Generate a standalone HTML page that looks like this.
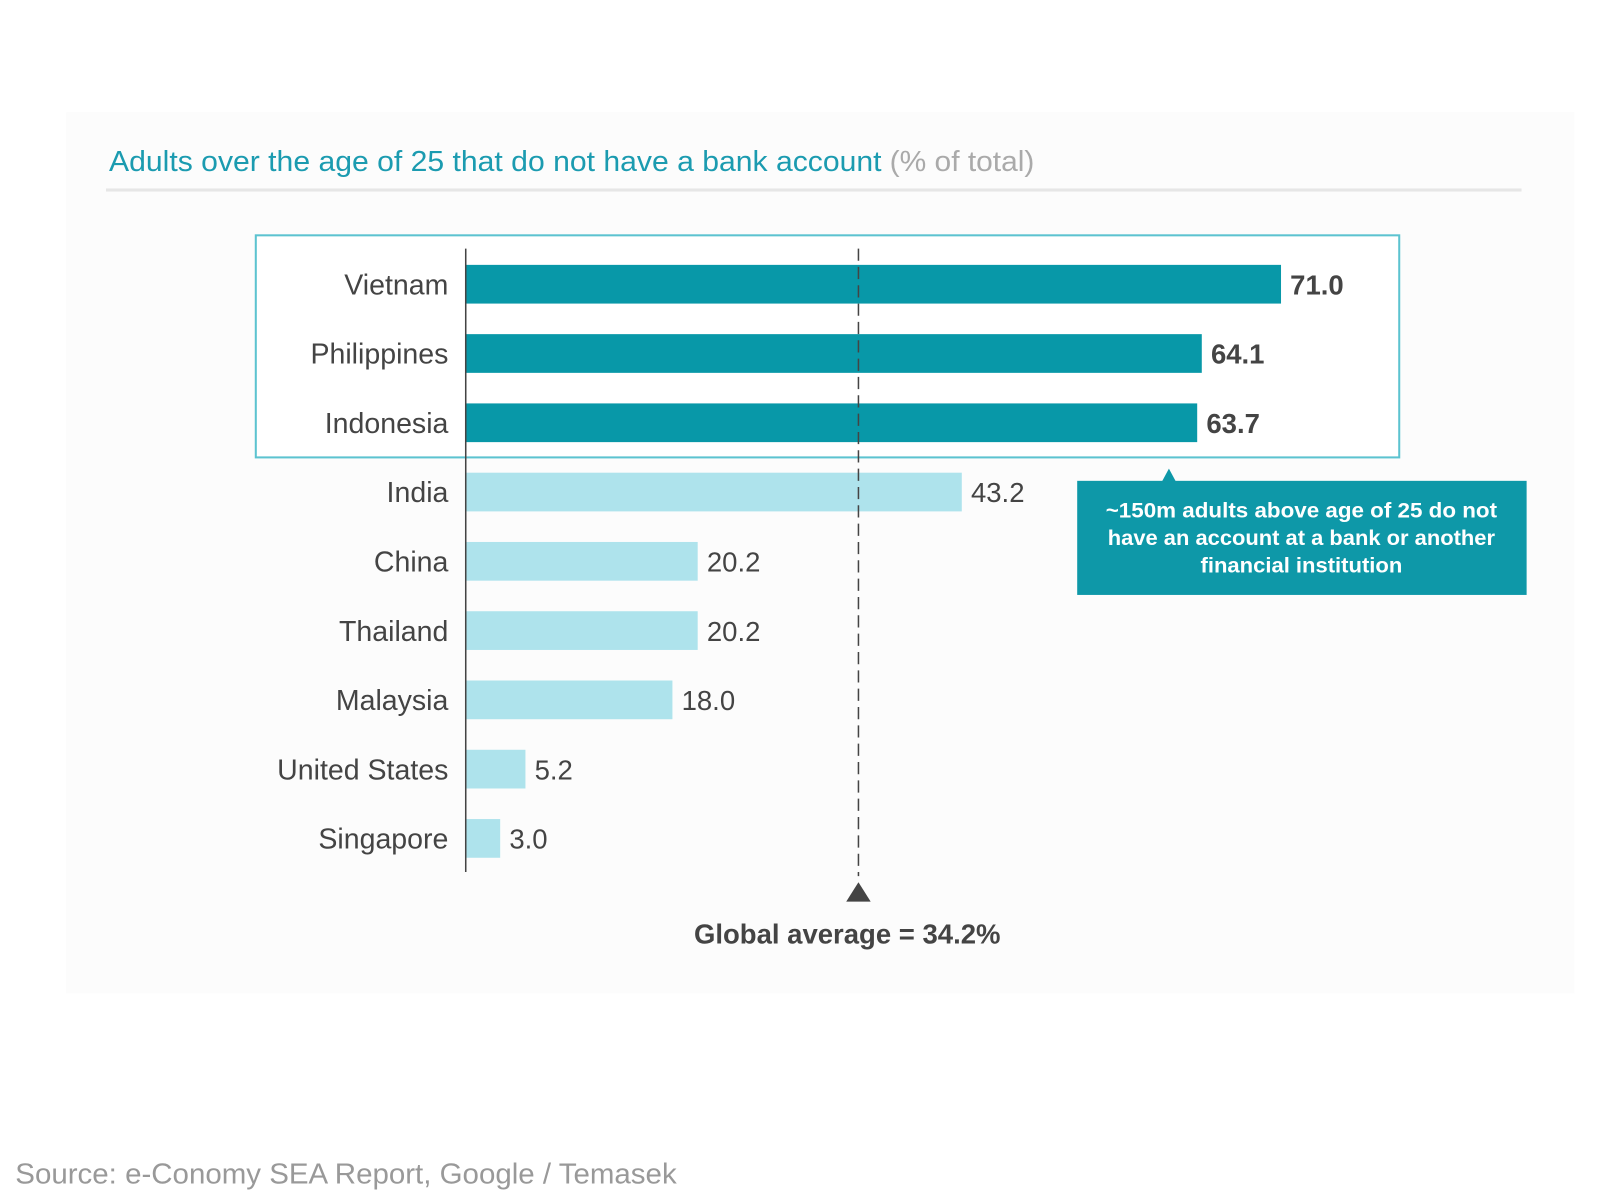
<!DOCTYPE html>
<html><head><meta charset="utf-8"><style>
html,body{margin:0;padding:0;background:#fff;}
svg{display:block;font-family:"Liberation Sans",Arial,sans-serif;}
</style></head><body>
<svg id="chart" width="1600" height="1197" viewBox="0 0 1570 1175" preserveAspectRatio="none" xmlns="http://www.w3.org/2000/svg">
<rect x="65" y="110" width="1480" height="865" fill="#fcfcfc"/>
<text x="107" y="168" font-size="28" fill="#1b9bb0"><tspan textLength="758" lengthAdjust="spacingAndGlyphs">Adults over the age of 25 that do not have a bank account</tspan> <tspan fill="#aaaaaa" x="873" textLength="142" lengthAdjust="spacingAndGlyphs">(% of total)</tspan></text>
<rect x="104" y="185" width="1389" height="3" fill="#e6e6e6"/>
<rect x="251" y="231" width="1122" height="218" fill="#fff" stroke="#5cc3d0" stroke-width="2"/>
<g id="bars"></g>
<line x1="457" y1="244" x2="457" y2="856" stroke="#444" stroke-width="1.5"/>
<g id="avg"></g>
<g>
<polygon points="1140,473 1147,460 1154,473" fill="#0e98a8"/>
<rect x="1057" y="472" width="441" height="112" fill="#0e98a8"/>
<text x="1277" font-size="21" font-weight="bold" fill="#fff" text-anchor="middle"><tspan x="1277" y="508" textLength="384" lengthAdjust="spacingAndGlyphs">~150m adults above age of 25 do not</tspan><tspan x="1277" y="535" textLength="380" lengthAdjust="spacingAndGlyphs">have an account at a bank or another</tspan><tspan x="1277" y="562" textLength="198" lengthAdjust="spacingAndGlyphs">financial institution</tspan></text>
</g>
<text x="15" y="1162" font-size="28" fill="#999" textLength="649" lengthAdjust="spacingAndGlyphs">Source: e-Conomy SEA Report, Google / Temasek</text>
</svg>
<script>
const categories=["Vietnam","Philippines","Indonesia","India","China","Thailand","Malaysia","United States","Singapore"];
const values=[71.0,64.1,63.7,43.2,20.2,20.2,18.0,5.2,3.0];
const highlighted=[true,true,true,false,false,false,false,false,false];
const globalAverage=34.2;
const NS="http://www.w3.org/2000/svg";
const x0=457, pxPer=800/71;
const xs=v=>x0+v*pxPer;
const ys=i=>279+i*68;
const g=document.getElementById('bars');
function mk(t,a,p){const e=document.createElementNS(NS,t);for(const k in a)e.setAttribute(k,a[k]);p.appendChild(e);return e;}
categories.forEach((c,i)=>{
  const hi=highlighted[i];
  const lab=mk('text',{x:440,y:ys(i)+10,'font-size':28,fill:'#444','text-anchor':'end'},g);
  lab.textContent=c;
  
  
  const r=mk('rect',{x:x0,y:ys(i)-19,width:xs(values[i])-x0,height:38,fill:hi?'#0898a8':'#aee3ec'},g);
  
  
  const v=mk('text',{x:xs(values[i])+9,y:ys(i)+10,'font-size':27,fill:'#444','font-weight':hi?'bold':'normal'},g);
  v.textContent=values[i].toFixed(1);
  
  
});
const a=document.getElementById('avg');
const ax=xs(globalAverage);
const dl=mk('line',{x1:ax,y1:244,x2:ax,y2:860,stroke:'#444','stroke-width':1.5,'stroke-dasharray':'12 6'},a);


const tri=mk('polygon',{points:`${ax-12},885 ${ax},866 ${ax+12},885`,fill:'#444'},a);


const at=mk('text',{x:ax-11,y:926,'font-size':27,'font-weight':'bold',fill:'#444','text-anchor':'middle'},a);
at.textContent='Global average = '+globalAverage.toFixed(1)+'%';


</script>
</body></html>
